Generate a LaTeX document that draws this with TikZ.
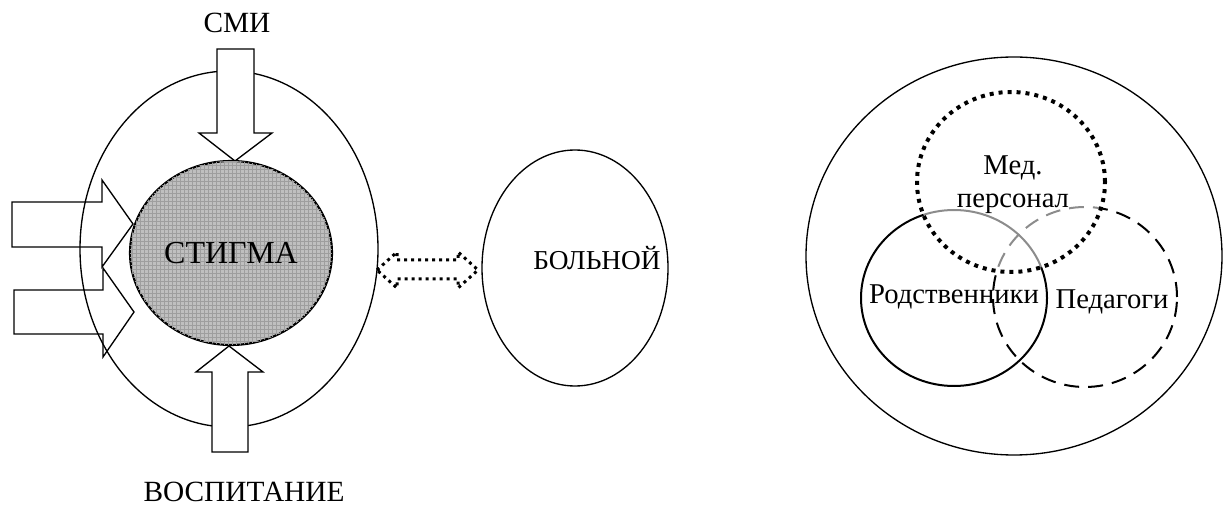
\documentclass[tikz,border=0pt]{standalone}
\usepackage{fontspec}
\setmainfont{Liberation Serif}
\usetikzlibrary{shapes.geometric,patterns}

\newlength{\du}
\setlength{\du}{0.75pt}

\tikzset{
  oval/.style={ellipse, draw=black, line width=1pt, inner sep=0pt},
  blockarrow/.style={draw=black, line width=1pt, line join=miter},
  dotarrow/.style={draw=black, line width=3\du, dash pattern=on 3\du off 4\du},
  bigtext/.style={font=\fontsize{22}{26}\selectfont, inner sep=0pt},
  venntext/.style={font=\fontsize{21.5}{25}\selectfont, inner sep=0pt, align=center}
}

\begin{document}
\begin{tikzpicture}
\pgftransformxscale{1.000000}
\pgftransformyscale{-1.000000}
\useasboundingbox (0\du,0\du) rectangle (1224\du,509\du);

% left group
\node[oval, minimum width=298\du, minimum height=356\du] (field) at (229\du,249\du) {};
\draw[blockarrow] (12\du,202\du)--(102\du,202\du)--(102\du,180\du)--(133\du,224\du)--(102\du,267\du)--(102\du,247\du)--(12\du,247\du)--cycle;
\draw[blockarrow] (14\du,290\du)--(103\du,290\du)--(103\du,268\du)--(134\du,312\du)--(103\du,357\du)--(103\du,334\du)--(14\du,334\du)--cycle;
\draw[blockarrow, fill=white] (217\du,49\du)--(254\du,49\du)--(254\du,133\du)--(272\du,133\du)--(235\du,161\du)--(199\du,133\du)--(217\du,133\du)--cycle;
\draw[blockarrow, fill=white] (212\du,452\du)--(248\du,452\du)--(248\du,372\du)--(263\du,372\du)--(229\du,346\du)--(196\du,372\du)--(212\du,372\du)--cycle;
\node[oval, line width=1.6pt, fill=black!25, postaction={pattern=grid, pattern color=black!38},
  minimum width=202\du, minimum height=184\du, font=\fontsize{24}{28}\selectfont] (stigma) at (231\du,253\du) {СТИГМА};
\node[bigtext] (media) at (237\du,23\du) {СМИ};
\node[bigtext] (upbringing) at (244\du,492\du) {ВОСПИТАНИЕ};

% double arrow
\draw[dotarrow] (377\du,270\du)--(397\du,252\du)--(397\du,260\du)--(458\du,260\du)--(458\du,252\du)--(478\du,270\du)--(458\du,288\du)--(458\du,279\du)--(397\du,279\du)--(397\du,288\du)--cycle;

% patient
\node[oval, minimum width=186\du, minimum height=236\du] (patient) at (575\du,268\du) {};
\node[bigtext, font=\fontsize{20.5}{24}\selectfont] (patientlabel) at (597\du,258\du) {БОЛЬНОЙ};

% right group
\node[oval, minimum width=416\du, minimum height=398\du] (society) at (1014\du,256\du) {};
\node[oval, line width=1.5pt, minimum width=186\du, minimum height=176\du] (relatives) at (954\du,298\du) {};
\node[oval, line width=1.5pt, dash pattern=on 15\du off 9\du, minimum width=184\du, minimum height=180\du] (teachers) at (1085\du,297\du) {};
\node[oval, line width=4\du, dash pattern=on 4\du off 5\du, fill=white, fill opacity=0.55,
  minimum width=188\du, minimum height=180\du] (medical) at (1011\du,182\du) {};
\node[venntext] (medicallabel) at (1013\du,185\du) {Мед.\\персонал};
\node[venntext] (relativeslabel) at (954\du,297\du) {Родственники};
\node[venntext] (teacherslabel) at (1112\du,302\du) {Педагоги};
\end{tikzpicture}
\end{document}
